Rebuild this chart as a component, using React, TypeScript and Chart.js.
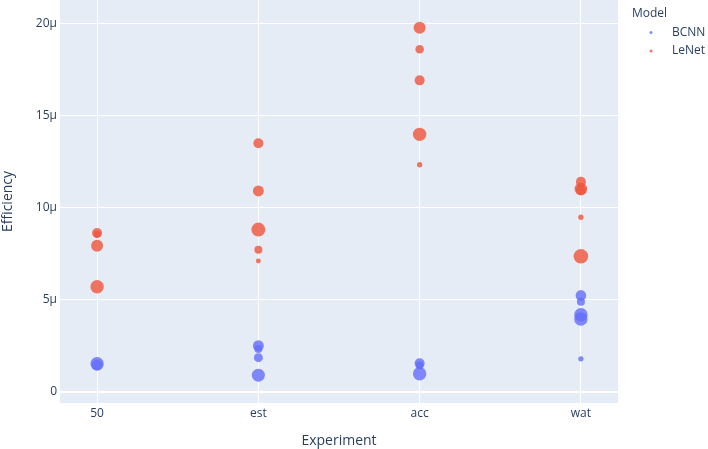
import React, { useEffect, useRef } from "react";
import { Chart, registerables } from "chart.js";

Chart.register(...registerables);

// Categories on the x axis
const categories = ["50", "est", "acc", "wat"];

// Efficiency values are in units of 1e-6 (μ)
const bcnnExperiment = ["50", "50", "est", "est", "est", "est", "acc", "acc", "acc", "wat", "wat", "wat", "wat", "wat"];
const bcnnEfficiency = [1.52, 1.45, 2.5, 2.32, 1.85, 0.9, 1.55, 1.42, 0.98, 5.23, 4.88, 4.18, 3.95, 1.79];
const bcnnSize = [45, 30, 30, 16, 20, 42, 25, 16, 45, 28, 16, 45, 45, 7];

const lenetExperiment = ["50", "50", "50", "50", "est", "est", "est", "est", "est", "acc", "acc", "acc", "acc", "acc", "wat", "wat", "wat", "wat", "wat"];
const lenetEfficiency = [8.62, 8.55, 7.93, 5.7, 13.49, 10.9, 8.8, 7.71, 7.1, 19.76, 18.59, 16.9, 13.97, 12.32, 11.4, 11.0, 10.95, 9.47, 7.35];
const lenetSize = [25, 12, 36, 45, 25, 30, 49, 16, 6, 36, 18, 25, 45, 7, 25, 40, 25, 7, 53];

const yTicks = [0, 5, 10, 15, 20];

const FONT = "'Open Sans', verdana, arial, sans-serif";
const TEXT = "#2a3f5f";
const BLUE = "rgba(99,110,250,0.8)";
const RED = "rgba(239,85,59,0.8)";

function toPoints(exp: string[], eff: number[], size: number[]) {
  return exp.map((e, i) => ({ x: categories.indexOf(e), y: eff[i], r: Math.sqrt(size[i]) }));
}

const bgPlugin = {
  id: "plotBg",
  beforeDraw(chart: any) {
    const { ctx, chartArea } = chart;
    ctx.save();
    ctx.fillStyle = "#E5ECF6";
    ctx.fillRect(chartArea.left, chartArea.top, chartArea.right - chartArea.left, chartArea.bottom - chartArea.top);
    ctx.restore();
  },
};

const legendPlugin = {
  id: "plotLegend",
  afterDraw(chart: any) {
    const { ctx } = chart;
    ctx.save();
    ctx.font = `12px ${FONT}`;
    ctx.fillStyle = TEXT;
    ctx.textBaseline = "middle";
    ctx.textAlign = "left";
    ctx.fillText("Model", 632, 14);
    const items = [
      { label: "BCNN", color: BLUE, y: 32.5 },
      { label: "LeNet", color: RED, y: 51 },
    ];
    items.forEach((it) => {
      ctx.fillStyle = it.color;
      ctx.beginPath();
      ctx.arc(651, it.y, 1.5, 0, Math.PI * 2);
      ctx.fill();
      ctx.fillStyle = TEXT;
      ctx.fillText(it.label, 672, it.y);
    });
    ctx.restore();
  },
};

export default function App() {
  const ref = useRef<HTMLCanvasElement | null>(null);

  useEffect(() => {
    document.body.style.margin = "0";
    const canvas = ref.current;
    if (!canvas) return;
    const chart = new Chart(canvas, {
      type: "bubble",
      data: {
        datasets: [
          {
            label: "BCNN",
            data: toPoints(bcnnExperiment, bcnnEfficiency, bcnnSize),
            backgroundColor: BLUE,
            borderWidth: 0,
            hoverBorderWidth: 0,
          },
          {
            label: "LeNet",
            data: toPoints(lenetExperiment, lenetEfficiency, lenetSize),
            backgroundColor: RED,
            borderWidth: 0,
            hoverBorderWidth: 0,
          },
        ],
      },
      options: {
        responsive: false,
        animation: false,
        devicePixelRatio: 1,
        layout: { autoPadding: false, padding: { left: 0, top: 0, right: 90, bottom: 0 } },
        plugins: {
          legend: { display: false },
          tooltip: { enabled: false },
        },
        scales: {
          x: {
            type: "linear",
            min: -0.23,
            max: 3.23,
            afterBuildTicks: (axis: any) => {
              axis.ticks = categories.map((_, i) => ({ value: i }));
            },
            afterFit: (axis: any) => {
              axis.height = 46;
              axis.paddingLeft = 0;
              axis.paddingRight = 0;
            },
            border: { display: false },
            grid: { color: "#ffffff", lineWidth: 1, drawTicks: false },
            ticks: {
              padding: 3,
              color: TEXT,
              font: { family: FONT, size: 12 },
              maxRotation: 0,
              callback: (v: any) => categories[Math.round(Number(v))] ?? "",
            },
            title: {
              display: true,
              text: "Experiment",
              color: TEXT,
              font: { family: FONT, size: 14 },
              padding: { top: 0, bottom: 0 },
            },
          },
          y: {
            type: "linear",
            min: -0.61,
            max: 21.26,
            afterBuildTicks: (axis: any) => {
              axis.ticks = yTicks.map((v) => ({ value: v }));
            },
            afterFit: (axis: any) => {
              axis.width = 60;
              axis.paddingTop = 0;
              axis.paddingBottom = 0;
            },
            border: { display: false },
            grid: {
              color: "#ffffff",
              lineWidth: (c: any) => (c.tick && c.tick.value === 0 ? 2 : 1),
              drawTicks: false,
            },
            ticks: {
              padding: 3,
              color: TEXT,
              font: { family: FONT, size: 12 },
              callback: (v: any) => (Number(v) === 0 ? "0" : `${v}μ`),
            },
            title: {
              display: true,
              text: "Efficiency",
              color: TEXT,
              font: { family: FONT, size: 14 },
              padding: { top: 0, bottom: 0 },
            },
          },
        },
      },
      plugins: [bgPlugin, legendPlugin],
    });
    return () => chart.destroy();
  }, []);

  return (
    <div style={{ width: 708, height: 449 }}>
      <canvas ref={ref} width={708} height={449} />
    </div>
  );
}
